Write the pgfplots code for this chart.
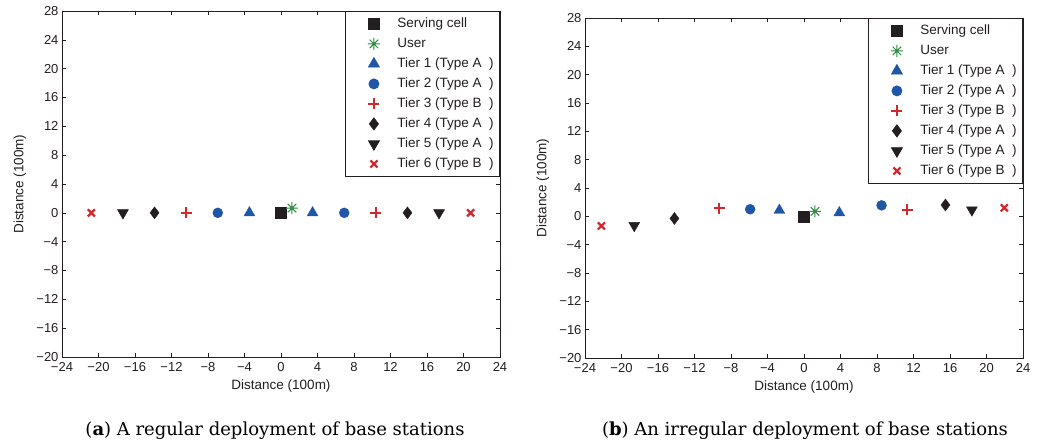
\documentclass[border=0pt]{standalone}
\usepackage{fontspec}
\usepackage{pgfplots}
\pgfplotsset{compat=1.18}
\newfontfamily\axfont{Liberation Sans}
\newfontfamily\capfont{DejaVu Serif}

\definecolor{mblue}{RGB}{31,86,168}
\definecolor{mred}{RGB}{210,40,45}
\definecolor{mgreen}{RGB}{45,140,65}
\definecolor{mblack}{RGB}{35,31,32}

% MATLAB-style eight-armed asterisk
\pgfdeclareplotmark{ast8}{%
  \pgfpathmoveto{\pgfqpoint{-\pgfplotmarksize}{0pt}}%
  \pgfpathlineto{\pgfqpoint{\pgfplotmarksize}{0pt}}%
  \pgfpathmoveto{\pgfqpoint{0pt}{-\pgfplotmarksize}}%
  \pgfpathlineto{\pgfqpoint{0pt}{\pgfplotmarksize}}%
  \pgfpathmoveto{\pgfqpoint{-.707\pgfplotmarksize}{-.707\pgfplotmarksize}}%
  \pgfpathlineto{\pgfqpoint{.707\pgfplotmarksize}{.707\pgfplotmarksize}}%
  \pgfpathmoveto{\pgfqpoint{-.707\pgfplotmarksize}{.707\pgfplotmarksize}}%
  \pgfpathlineto{\pgfqpoint{.707\pgfplotmarksize}{-.707\pgfplotmarksize}}%
  \pgfusepathqstroke}

\pgfplotsset{
  deploy/.style={
    scale only axis,
    xmin=-24, xmax=24, ymin=-20, ymax=28,
    xtick={-24,-20,...,24},
    ytick={-20,-16,...,28},
    xticklabels={−24,−20,−16,−12,−8,−4,0,4,8,12,16,20,24},
    yticklabels={−20,−16,−12,−8,−4,0,4,8,12,16,20,24,28},
    tick align=inside,
    major tick length=4pt,
    tick style={mblack, line width=0.6pt},
    axis line style={mblack, line width=0.8pt},
    ticklabel style={font=\axfont\fontsize{13}{15}\selectfont, text=mblack},
    xticklabel style={yshift=-2pt},
    label style={font=\axfont\fontsize{13.5}{15}\selectfont, text=mblack},
    xlabel={Distance (100m)},
    ylabel={Distance (100m)},
    only marks,
    legend cell align=left,
    legend style={at={(1,1)}, anchor=north east, draw=mblack, line width=0.8pt,
      font=\axfont\fontsize{13.5}{15}\selectfont, text=mblack,
      inner xsep=6pt, inner ysep=6pt, row sep=7pt,
      nodes={inner sep=0pt, text height=10pt, text depth=3pt},
      /tikz/every odd column/.append style={column sep=9pt}},
    legend image code/.code={%
      \path (0pt,0pt) (36pt,0pt);
      \draw[##1] plot coordinates {(22pt,0pt)};},
    serv/.style={mark=square*, mark size=5.5pt, mark options={fill=mblack, draw=mblack}, color=mblack},
    usr/.style={mark=ast8, mark size=6pt, color=mgreen, mark options={line width=1pt}},
    t1/.style={mark=triangle*, mark size=6.3pt, color=mblue, mark options={fill=mblue, draw=mblue}},
    t2/.style={mark=*, mark size=5pt, color=mblue, mark options={fill=mblue, draw=mblue}},
    t3/.style={mark=+, mark size=5.5pt, color=mred, mark options={line width=2.2pt}},
    t4/.style={mark=diamond*, mark size=6pt, color=mblack, mark options={fill=mblack, draw=mblack}},
    t5/.style={mark=triangle*, mark size=6.3pt, color=mblack, mark options={fill=mblack, draw=mblack, rotate=180}},
    t6/.style={mark=x, mark size=5pt, color=mred, mark options={line width=2.2pt}},
  }
}

\begin{document}
\begin{tikzpicture}
\useasboundingbox (0pt,0pt) rectangle (1041pt,-443pt);

% (a) regular deployment
\begin{axis}[deploy, width=438pt, height=346pt,
    at={(62pt,-357pt)}, anchor=south west,
    xlabel style={at={(axis description cs:0.5,-0.084)}, anchor=center},
    ylabel style={at={(axis description cs:-0.096,0.5)}, anchor=center}]
\addplot[serv] coordinates {(0,0)};
\addplot[usr] coordinates {(1.2,0.65)};
\addplot[t1] coordinates {(-3.46,0) (3.46,0)};
\addplot[t2] coordinates {(-6.93,0) (6.93,0)};
\addplot[t3] coordinates {(-10.39,0) (10.39,0)};
\addplot[t4] coordinates {(-13.86,0) (13.86,0)};
\addplot[t5] coordinates {(-17.32,0) (17.32,0)};
\addplot[t6] coordinates {(-20.78,0) (20.78,0)};
\legend{Serving cell, User, Tier 1 (Type A\ \ ), Tier 2 (Type A\ \ ), Tier 3 (Type B\ \ ),
        Tier 4 (Type A\ \ ), Tier 5 (Type A\ \ ), Tier 6 (Type B\ \ )}
\end{axis}

% (b) irregular deployment
\begin{axis}[deploy, width=438pt, height=340pt,
    at={(585pt,-358pt)}, anchor=south west,
    xlabel style={at={(axis description cs:0.5,-0.085)}, anchor=center},
    ylabel style={at={(axis description cs:-0.096,0.5)}, anchor=center}]
\addplot[serv] coordinates {(0,0)};
\addplot[usr] coordinates {(1.2,0.7)};
\addplot[t1] coordinates {(-2.7,0.85) (3.87,0.5)};
\addplot[t2] coordinates {(-5.9,1.0) (8.5,1.55)};
\addplot[t3] coordinates {(-9.3,1.15) (11.3,0.9)};
\addplot[t4] coordinates {(-14.2,-0.3) (15.5,1.6)};
\addplot[t5] coordinates {(-18.6,-1.3) (18.4,0.9)};
\addplot[t6] coordinates {(-22.2,-1.35) (21.95,1.2)};
\legend{Serving cell, User, Tier 1 (Type A\ \ ), Tier 2 (Type A\ \ ), Tier 3 (Type B\ \ ),
        Tier 4 (Type A\ \ ), Tier 5 (Type A\ \ ), Tier 6 (Type B\ \ )}
\end{axis}

\node[anchor=base, font=\capfont\fontsize{18}{21}\selectfont] at (275pt,-435pt)
  {(\textbf{a}) A regular deployment of base stations};
\node[anchor=base, font=\capfont\fontsize{18}{21}\selectfont] at (805pt,-435pt)
  {(\textbf{b}) An irregular deployment of base stations};
\end{tikzpicture}
\end{document}
